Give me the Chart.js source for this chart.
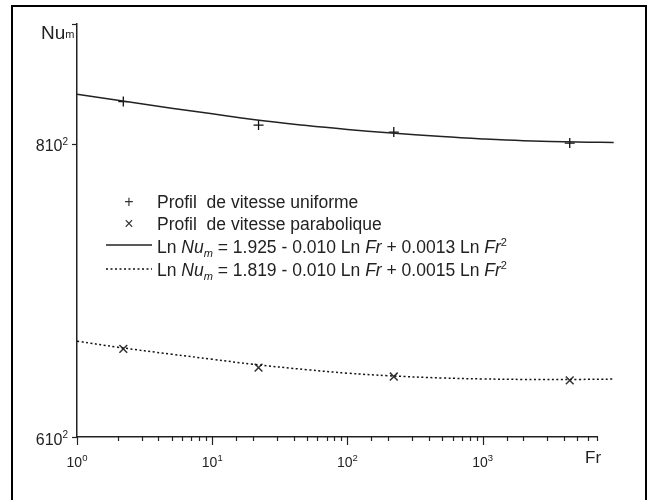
<!DOCTYPE html>
<html>
<head>
<meta charset="utf-8">
<title>Nu_m vs Fr</title>
<script src="https://cdn.jsdelivr.net/npm/chart.js@4.4.0/dist/chart.umd.min.js"></script>
<style>
  html, body { margin: 0; padding: 0; background: #fff; }
  #wrap { position: relative; width: 652px; height: 500px; }
</style>
</head>
<body>
<div id="wrap"><canvas id="nuChart" width="652" height="500"></canvas></div>
<script>
// measured points (Fr vs mean Nusselt number)
const frPoints = [2.2, 22, 220, 4400];
const nuUniform = [834, 815, 809.4, 800.7];
const nuParabolic = [654.2, 642.3, 636.7, 634.3];

// fitted curves
const fitFr = [1, 2, 5, 10, 20, 50, 100, 200, 500, 1000, 2000, 5000, 9300];
const fitUniform = [840.1, 835.0, 828.6, 824.0, 819.4, 814.6, 811.5, 808.8, 805.8, 804.0, 802.6, 801.5, 801.2];
const fitParabolic = [659.2, 655.3, 650.8, 647.6, 644.4, 641.0, 638.8, 637.2, 635.8, 635.2, 634.9, 634.9, 635.1];

// axis ticks (base ^ exponent)
const xTickValues = [1, 10, 100, 1000];
const xTickLabels = ['10^0', '10^1', '10^2', '10^3'];
const yTickValues = [600, 800, 900];
const yTickLabels = ['610^2', '810^2', ''];

const legendLabels = ['Profil  de vitesse uniforme', 'Profil  de vitesse parabolique'];

const FONT = '"Liberation Sans", Arial, sans-serif';
const INK = '#222';
const TXT = 17.5;

function toXY(xs, ys) {
  return xs.map((x, i) => ({ x: x, y: ys[i] }));
}

function sameValue(a, b) {
  return Math.abs(Math.log10(a) - Math.log10(b)) < 1e-6;
}

// draw a line of text made of several pieces (italic, sub, sup)
function partsWidth(ctx, parts) {
  let w = 0;
  parts.forEach(p => {
    ctx.font = (p.italic ? 'italic ' : '') + (p.size || TXT) + 'px ' + FONT;
    w += ctx.measureText(p.text).width;
  });
  return w;
}

function drawParts(ctx, parts, x, y) {
  parts.forEach(p => {
    ctx.font = (p.italic ? 'italic ' : '') + (p.size || TXT) + 'px ' + FONT;
    ctx.fillText(p.text, x, y + (p.dy || 0));
    x += ctx.measureText(p.text).width;
  });
}

function powerParts(label, size, supSize, rise) {
  const bits = label.split('^');
  const parts = [{ text: bits[0], size: size }];
  if (bits[1]) parts.push({ text: bits[1], size: supSize, dy: -rise });
  return parts;
}

function equation(a, b, c) {
  return [
    { text: 'Ln ' },
    { text: 'Nu', italic: true },
    { text: 'm', italic: true, size: 11, dy: 4 },
    { text: ' = ' + a + ' - ' + b + ' Ln ' },
    { text: 'Fr', italic: true },
    { text: ' + ' + c + ' Ln ' },
    { text: 'Fr', italic: true },
    { text: '2', size: 11, dy: -7 }
  ];
}

const decorPlugin = {
  id: 'decor',
  beforeDraw(chart) {
    const ctx = chart.ctx;
    ctx.save();
    ctx.fillStyle = '#fff';
    ctx.fillRect(0, 0, chart.width, chart.height);
    ctx.restore();
  },
  afterDraw(chart) {
    const ctx = chart.ctx;
    const xs = chart.scales.x;
    const ys = chart.scales.y;
    const area = chart.chartArea;
    ctx.save();

    // outer frame (bottom edge falls outside the picture)
    ctx.strokeStyle = '#000';
    ctx.lineWidth = 2;
    ctx.strokeRect(12, 6, 634, 510);

    // tick marks
    ctx.strokeStyle = INK;
    ctx.lineWidth = 1.2;
    xs.ticks.forEach(t => {
      const px = Math.round(xs.getPixelForValue(t.value)) + 0.5;
      const major = xTickValues.some(v => sameValue(v, t.value));
      ctx.beginPath();
      ctx.moveTo(px, area.bottom);
      ctx.lineTo(px, area.bottom + (major ? 8 : 4));
      ctx.stroke();
    });
    yTickValues.forEach(v => {
      const py = Math.round(ys.getPixelForValue(v)) + 0.5;
      ctx.beginPath();
      ctx.moveTo(area.left, py);
      ctx.lineTo(area.left - 5, py);
      ctx.stroke();
    });

    // tick labels with real superscripts
    ctx.fillStyle = INK;
    ctx.textAlign = 'left';
    ctx.textBaseline = 'alphabetic';
    xTickValues.forEach((v, i) => {
      const parts = powerParts(xTickLabels[i], 14, 9.5, 6);
      const w = partsWidth(ctx, parts);
      drawParts(ctx, parts, xs.getPixelForValue(v) - w / 2, 467);
    });
    yTickValues.forEach((v, i) => {
      if (!yTickLabels[i]) return;
      const parts = powerParts(yTickLabels[i], 16, 10, 6.5);
      const w = partsWidth(ctx, parts);
      drawParts(ctx, parts, 68 - w / 1, ys.getPixelForValue(v) + 7.5);
    });

    // axis titles
    drawParts(ctx, [{ text: 'Nu', size: 19 }, { text: 'm', size: 11, dy: -1.5 }], 41, 39);
    drawParts(ctx, [{ text: 'Fr', size: 17 }], 585, 463);

    // legend
    ctx.font = '16px ' + FONT;
    ctx.textAlign = 'center';
    ctx.fillStyle = '#333';
    ctx.fillText('+', 129, 207);
    ctx.fillText('×', 129, 229);
    ctx.textAlign = 'left';
    ctx.fillStyle = INK;
    drawParts(ctx, [{ text: legendLabels[0] }], 157, 207.5);
    drawParts(ctx, [{ text: legendLabels[1] }], 157, 230);

    ctx.strokeStyle = INK;
    ctx.lineWidth = 1.3;
    ctx.beginPath();
    ctx.moveTo(106, 245);
    ctx.lineTo(152, 245);
    ctx.stroke();
    drawParts(ctx, equation('1.925', '0.010', '0.0013'), 157, 252.5);

    ctx.strokeStyle = '#111';
    ctx.lineWidth = 1.5;
    ctx.setLineDash([2, 2.5]);
    ctx.beginPath();
    ctx.moveTo(106, 269);
    ctx.lineTo(152, 269);
    ctx.stroke();
    ctx.setLineDash([]);
    drawParts(ctx, equation('1.819', '0.010', '0.0015'), 157, 276);

    ctx.restore();
  }
};

const ctx = document.getElementById('nuChart').getContext('2d');
const nuChart = new Chart(ctx, {
  type: 'line',
  data: {
    datasets: [
      {
        label: 'fit uniforme',
        data: toXY(fitFr, fitUniform),
        borderColor: INK,
        borderWidth: 1.5,
        pointRadius: 0,
        tension: 0.4,
        clip: false
      },
      {
        label: 'fit parabolique',
        data: toXY(fitFr, fitParabolic),
        borderColor: '#111',
        borderWidth: 1.5,
        borderDash: [2, 2.5],
        pointRadius: 0,
        tension: 0.4,
        clip: false
      },
      {
        label: legendLabels[0],
        data: toXY(frPoints, nuUniform),
        showLine: false,
        pointStyle: 'cross',
        pointRadius: 5,
        borderColor: '#111',
        borderWidth: 1.3
      },
      {
        label: legendLabels[1],
        data: toXY(frPoints, nuParabolic),
        showLine: false,
        pointStyle: 'crossRot',
        pointRadius: 5.5,
        borderColor: '#333',
        borderWidth: 1.5
      }
    ]
  },
  options: {
    responsive: false,
    animation: false,
    layout: {
      padding: { left: 0, right: 55, top: 24, bottom: 0 }
    },
    plugins: {
      legend: { display: false },
      tooltip: { enabled: false }
    },
    scales: {
      x: {
        type: 'logarithmic',
        min: 1,
        max: 7000,
        grid: { display: false, drawTicks: false },
        border: { display: true, color: INK, width: 1.5 },
        ticks: {
          autoSkip: false,
          maxRotation: 0,
          callback: function () { return ''; }
        },
        afterFit: function (scale) {
          scale.height = 63;
        }
      },
      y: {
        type: 'logarithmic',
        min: 600,
        max: 900,
        grid: { display: false, drawTicks: false },
        border: { display: true, color: INK, width: 1.5 },
        afterBuildTicks: function (scale) {
          scale.ticks = yTickValues.map(v => ({ value: v }));
        },
        ticks: {
          callback: function () { return ''; }
        },
        afterFit: function (scale) {
          scale.width = 77;
        }
      }
    }
  },
  plugins: [decorPlugin]
});
</script>
</body>
</html>
